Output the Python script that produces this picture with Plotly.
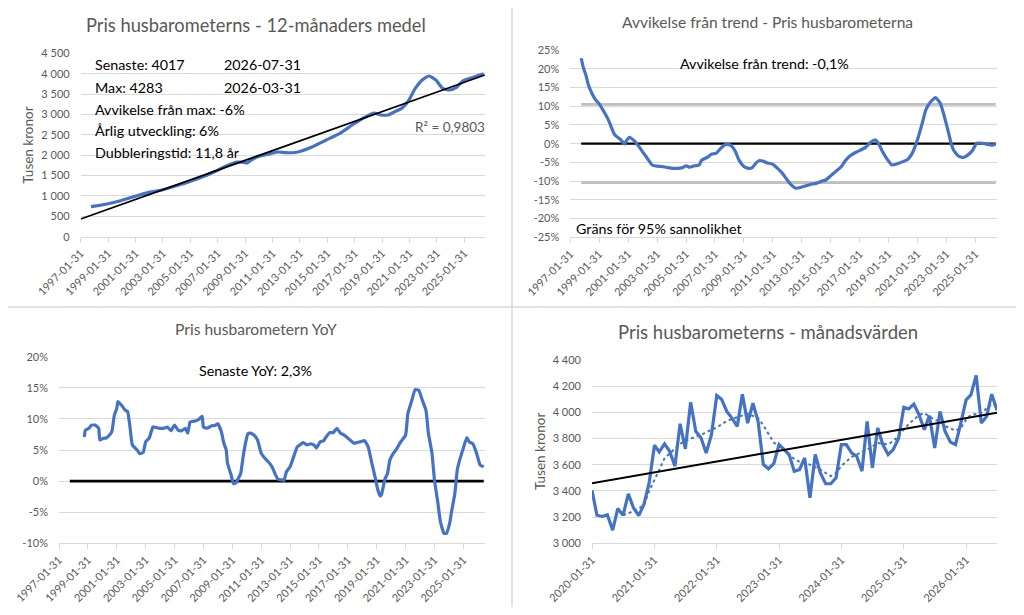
import pandas as pd
import plotly.graph_objects as go

BLA = "#4472C4"
GRID = "#D9D9D9"
GRA_TEXT = "#595959"
SVART = "#000000"
FONT = "Lato"

# sidan har 8 px marginal runt diagrammet -> figuren gors 16 px mindre och
# alla positioner nedan anges i skarmpixlar (0..1024 x 0..615)
SKARM_W, SKARM_H = 1024, 615
KANT = 8
W, H = SKARM_W - 2 * KANT, SKARM_H - 2 * KANT

# -- Pris husbarometerns, 12-manaders medel (tusen kronor) ---------------------
medel_datum = ["1997-11", "1998-01", "1999-01", "2000-01", "2001-01", "2002-01",
               "2003-01", "2004-01", "2005-01", "2006-01", "2007-01", "2008-01",
               "2008-07", "2009-01", "2009-04", "2009-07", "2010-01", "2011-01",
               "2011-07", "2012-01", "2012-07", "2013-01", "2014-01", "2015-01",
               "2016-01", "2017-01", "2018-01", "2018-07", "2019-01", "2019-07",
               "2020-01", "2020-07", "2021-01", "2021-07", "2022-01", "2022-07",
               "2023-01", "2023-07", "2024-01", "2024-07", "2025-01", "2025-07",
               "2026-01", "2026-07"]
medel_varde = [736, 745, 802, 883, 985, 1080,
               1145, 1243, 1350, 1472, 1620, 1775,
               1830, 1824, 1810, 1870, 1963, 2045,
               2078, 2065, 2060, 2086, 2209, 2372,
               2536, 2765, 2961, 3030, 2986, 2986,
               3067, 3149, 3329, 3640, 3845, 3943,
               3845, 3640, 3600, 3665, 3828, 3885,
               3943, 3995]
trend_medel_datum = ["1997-01-31", "2026-07-31"]
trend_medel_varde = [434, 3969]

# -- Avvikelse fran trend (%) --------------------------------------------------
avv_datum = ["1997-11", "1998-01", "1998-03", "1998-05", "1998-08", "1998-11",
             "1999-02", "1999-06", "1999-10", "2000-01", "2000-03", "2000-08",
             "2000-11", "2000-12", "2001-03", "2001-07", "2001-11", "2002-03",
             "2002-07", "2002-10", "2003-02", "2003-06", "2003-11", "2004-03",
             "2004-07", "2004-11", "2005-02", "2005-05", "2005-09", "2006-01",
             "2006-03", "2006-08", "2006-11", "2007-03", "2007-07", "2007-11",
             "2008-03", "2008-07", "2008-10", "2009-02", "2009-06", "2009-09",
             "2009-12", "2010-03", "2010-07", "2010-09", "2011-02", "2011-06",
             "2011-10", "2012-02", "2012-06", "2012-09", "2013-01", "2013-05",
             "2013-09", "2014-02", "2014-06", "2014-10", "2015-02", "2015-06",
             "2015-11", "2016-02", "2016-06", "2016-11", "2017-03", "2017-07",
             "2017-11", "2018-03", "2018-06", "2018-09", "2019-01", "2019-05",
             "2019-09", "2020-02", "2020-06", "2020-10", "2020-12", "2021-03",
             "2021-06", "2021-09", "2022-01", "2022-05", "2022-09", "2022-12",
             "2023-03", "2023-06", "2023-08", "2023-12", "2024-04", "2024-08",
             "2024-12", "2025-03", "2025-08", "2025-12", "2026-04", "2026-07"]
avv_varde = [22.8, 20.1, 18.3, 15.7, 13.4, 11.7,
             10.6, 8.5, 6.1, 3.6, 2.3, 1.0,
             -0.1, 0.5, 1.7, 0.8, -0.8, -2.6,
             -4.4, -5.7, -6.0, -6.1, -6.4, -6.6,
             -6.6, -6.4, -5.9, -6.3, -5.9, -5.7,
             -4.4, -3.6, -2.8, -2.6, -1.2, -0.2,
             -0.4, -2.1, -4.4, -6.1, -6.6, -6.4,
             -5.2, -4.5, -4.8, -5.1, -5.5, -6.6,
             -7.9, -9.7, -11.2, -11.9, -11.7, -11.3,
             -10.9, -10.6, -10.1, -9.7, -8.6, -7.5,
             -6.1, -4.6, -3.3, -2.3, -1.7, -1.0,
             0.3, 1.0, -0.1, -2.1, -4.2, -5.7,
             -5.4, -4.8, -4.2, -2.4, -0.8, 2.0,
             5.4, 9.0, 11.2, 12.3, 10.8, 7.7,
             4.1, 0.1, -1.7, -3.3, -3.7, -3.0,
             -1.7, 0.1, 0.1, -0.2, -0.4, -0.1]
grans_ovre = 10.5
grans_nedre = -10.4

# -- Pris husbarometern YoY (%) ------------------------------------------------
yoy_datum = ["1998-11", "1998-12", "1999-03", "1999-05", "1999-08", "1999-11",
             "1999-12", "2000-03", "2000-05", "2000-08", "2000-10", "2000-12",
             "2001-02", "2001-03", "2001-06", "2001-09", "2001-11", "2002-01",
             "2002-03", "2002-07", "2002-09", "2002-12", "2003-02", "2003-05",
             "2003-08", "2003-09", "2004-01", "2004-05", "2004-08", "2004-11",
             "2005-02", "2005-05", "2005-08", "2005-11", "2006-01", "2006-03",
             "2006-08", "2006-10", "2007-01", "2007-02", "2007-05", "2007-09",
             "2007-11", "2008-02", "2008-05", "2008-07", "2008-09", "2008-10",
             "2009-01", "2009-03", "2009-05", "2009-07", "2009-09", "2009-11",
             "2010-01", "2010-03", "2010-05", "2010-08", "2010-11", "2011-02",
             "2011-05", "2011-08", "2011-11", "2012-02", "2012-04", "2012-07",
             "2012-09", "2012-11", "2013-02", "2013-05", "2013-08", "2013-10",
             "2014-01", "2014-04", "2014-07", "2014-10", "2014-12", "2015-03",
             "2015-06", "2015-08", "2015-11", "2016-02", "2016-05", "2016-08",
             "2016-10", "2017-01", "2017-04", "2017-07", "2017-10", "2017-12",
             "2018-04", "2018-07", "2018-10", "2019-01", "2019-03", "2019-05",
             "2019-06", "2019-09", "2019-11", "2020-01", "2020-04", "2020-06",
             "2020-10", "2021-02", "2021-04", "2021-07", "2021-10", "2022-01",
             "2022-04", "2022-07", "2022-09", "2022-12", "2023-02", "2023-05",
             "2023-07", "2023-10", "2023-12", "2024-03", "2024-04", "2024-07",
             "2024-09", "2024-11", "2025-02", "2025-05", "2025-07", "2025-10",
             "2026-01", "2026-04", "2026-07"]
yoy_varde = [7.1, 8.2, 8.5, 9.0, 9.0, 8.5,
             6.6, 6.9, 6.9, 7.4, 8.0, 10.6,
             11.7, 12.8, 12.2, 11.4, 11.2, 8.7,
             5.8, 5.0, 4.4, 4.6, 6.3, 6.9,
             8.7, 8.7, 8.5, 8.5, 8.7, 8.1,
             9.0, 8.2, 8.1, 8.5, 7.7, 9.5,
             9.7, 9.9, 10.4, 8.7, 8.5, 8.9,
             8.9, 9.2, 7.9, 6.1, 5.0, 2.9,
             1.0, -0.4, -0.3, 0.4, 1.2, 3.9,
             6.1, 7.6, 7.7, 7.4, 6.6, 4.5,
             3.7, 3.1, 2.3, 1.0, 0.3, 0.2,
             0.1, 1.5, 2.3, 3.9, 5.5, 5.8,
             6.2, 5.8, 6.0, 5.8, 5.3, 6.3,
             6.5, 7.1, 7.8, 7.8, 8.5, 7.7,
             7.5, 7.1, 6.6, 6.1, 6.2, 6.3,
             6.5, 5.5, 2.9, 0.4, -1.4, -2.4,
             -2.2, 0.4, 1.2, 3.4, 4.5, 5.0,
             6.3, 7.4, 10.9, 12.8, 14.7, 14.6,
             13.0, 11.4, 7.7, 4.5, 0.2, -3.6,
             -6.5, -8.4, -8.4, -6.5, -5.2, -2.0,
             1.8, 3.4, 5.3, 7.0, 6.3, 6.0,
             4.5, 2.6, 2.3]

# -- Pris husbarometerns, manadsvarden fran 2020-01 (tusen kronor) -------------
manad_varde = [3405, 3214, 3205, 3218, 3100, 3265, 3214, 3378, 3272, 3211, 3297, 3462,
               3749, 3698, 3759, 3703, 3589, 3913, 3721, 4078, 3855, 3804, 3690, 3830,
               4129, 4101, 4007, 3956, 3893, 4139, 3918, 4070, 3931, 3601, 3569, 3609,
               3754, 3721, 3678, 3551, 3563, 3652, 3348, 3678, 3538, 3455, 3455, 3500,
               3754, 3754, 3690, 3665, 3551, 3931, 3576, 3880, 3754, 3678, 3716, 3800,
               4038, 4027, 4063, 3982, 3868, 3975, 3728, 4007, 3855, 3773, 3754, 3918,
               4096, 4134, 4283, 3918, 3969, 4139, 4017]
manad_datum = pd.date_range("2020-01-31", periods=len(manad_varde),
                            freq=pd.offsets.MonthEnd())
# glidande medel (prickad linje), avlast i bilden vid dessa manadsindex
glid_index = [6, 8, 10, 11, 13, 14, 15, 17, 19, 21, 23, 24, 26, 28, 30, 32, 33, 35,
              37, 38, 40, 42, 44, 46, 47, 48, 50, 51, 53, 55, 57, 58, 59, 61, 62, 63,
              64, 66, 67, 68, 70, 71, 72, 73, 75, 76, 77, 78]
glid_varde = [3214, 3245, 3290, 3400, 3560, 3650, 3685, 3760, 3800, 3828, 3868, 3885,
              3935, 3965, 3990, 3956, 3900, 3770, 3716, 3670, 3622, 3601, 3563, 3513,
              3535, 3590, 3660, 3678, 3716, 3766, 3756, 3779, 3820, 3910, 3944, 3980,
              3994, 3944, 3931, 3895, 3860, 3880, 3944, 3980, 3994, 4030, 4065, 4050]
trend_manad_varde = [3458, 3998]

# -- Axlar ---------------------------------------------------------------------
ticks_lang = ["1997-01-31", "1999-01-31", "2001-01-31", "2003-01-31", "2005-01-31",
              "2007-01-31", "2009-01-31", "2011-01-31", "2013-01-31", "2015-01-31",
              "2017-01-31", "2019-01-31", "2021-01-31", "2023-01-31", "2025-01-31"]
ticks_manad = ["2020-01-31", "2021-01-31", "2022-01-31", "2023-01-31",
               "2024-01-31", "2025-01-31", "2026-01-31"]
y_medel = list(range(0, 4501, 500))
y_avv = list(range(-25, 26, 5))
y_yoy = list(range(-10, 21, 5))
y_manad = list(range(3000, 4401, 200))


def kr(v):
    return f"{v:,}".replace(",", " ")


def px_x(x):
    return (x - KANT) / W


def px_y(y):
    return 1 - (y - KANT) / H


def xdom(a, b):
    return [px_x(a), px_x(b)]


def ydom(topp, botten):
    return [px_y(botten), px_y(topp)]


def text(x, y, s, size, color=SVART, xanchor="left", vinkel=0):
    return dict(x=px_x(x), y=px_y(y), xref="paper", yref="paper", text=s,
                showarrow=False, xanchor=xanchor, yanchor="middle",
                textangle=vinkel, font=dict(family=FONT, size=size, color=color))


fig = go.Figure()

# panel 1
fig.add_trace(go.Scatter(x=medel_datum, y=medel_varde, mode="lines",
                         line=dict(color=BLA, width=3.2, shape="spline", smoothing=0.5),
                         xaxis="x", yaxis="y"))
fig.add_trace(go.Scatter(x=trend_medel_datum, y=trend_medel_varde, mode="lines",
                         line=dict(color=SVART, width=1.7), xaxis="x", yaxis="y"))

# panel 2
for niva in (grans_ovre, grans_nedre):
    fig.add_trace(go.Scatter(x=[avv_datum[0], avv_datum[-1]], y=[niva, niva],
                             mode="lines", line=dict(color="#BFBFBF", width=2.7),
                             xaxis="x2", yaxis="y2"))
fig.add_trace(go.Scatter(x=[avv_datum[0], avv_datum[-1]], y=[0, 0], mode="lines",
                         line=dict(color=SVART, width=2.3), xaxis="x2", yaxis="y2"))
fig.add_trace(go.Scatter(x=avv_datum, y=avv_varde, mode="lines",
                         line=dict(color=BLA, width=3.2, shape="spline", smoothing=0.4),
                         xaxis="x2", yaxis="y2"))

# panel 3
fig.add_trace(go.Scatter(x=["1997-11", yoy_datum[-1]], y=[0, 0], mode="lines",
                         line=dict(color=SVART, width=2.7), xaxis="x3", yaxis="y3"))
fig.add_trace(go.Scatter(x=yoy_datum, y=yoy_varde, mode="lines",
                         line=dict(color=BLA, width=3.2, shape="spline", smoothing=0.4),
                         xaxis="x3", yaxis="y3"))

# panel 4
fig.add_trace(go.Scatter(x=manad_datum, y=manad_varde, mode="lines",
                         line=dict(color=BLA, width=3.2), xaxis="x4", yaxis="y4"))
fig.add_trace(go.Scatter(x=[manad_datum[i] for i in glid_index], y=glid_varde,
                         mode="lines", line=dict(color=BLA, width=2, dash="dot"),
                         xaxis="x4", yaxis="y4"))
fig.add_trace(go.Scatter(x=[manad_datum[0], manad_datum[-1]], y=trend_manad_varde,
                         mode="lines", line=dict(color=SVART, width=2),
                         xaxis="x4", yaxis="y4"))

tickfont = dict(family=FONT, size=11, color=GRA_TEXT)
xbas = dict(type="date", tickangle=-45, tickfont=tickfont, showgrid=False,
            showline=True, linecolor=GRID, ticks="outside", ticklen=5,
            tickcolor=GRID, zeroline=False, automargin=False)
ybas = dict(tickfont=tickfont, showgrid=True, gridcolor=GRID, gridwidth=1,
            zeroline=False, showline=False, ticks="", ticklabelstandoff=10,
            automargin=False)

fig.update_layout(
    template="none",
    width=W, height=H, margin=dict(l=0, r=0, t=0, b=0, autoexpand=False),
    paper_bgcolor="white", plot_bgcolor="white", showlegend=False,
    font=dict(family=FONT, color=GRA_TEXT),
    xaxis=dict(xbas, domain=xdom(80.7, 485), anchor="y",
               range=["1997-01-31", "2026-08-03"],
               tickvals=ticks_lang, ticktext=ticks_lang),
    yaxis=dict(ybas, domain=ydom(53.3, 236.7), anchor="x", range=[0, 4500],
               tickvals=y_medel, ticktext=[kr(v) for v in y_medel]),
    xaxis2=dict(xbas, domain=xdom(570.3, 997), anchor="y2",
                range=["1997-01-31", "2026-08-03"],
                tickvals=ticks_lang, ticktext=ticks_lang),
    yaxis2=dict(ybas, domain=ydom(50, 237.3), anchor="x2", range=[-25, 25],
                tickvals=y_avv, ticktext=[f"{v}%" for v in y_avv]),
    xaxis3=dict(xbas, domain=xdom(59, 485), anchor="y3",
                range=["1997-01-31", "2026-08-03"],
                tickvals=ticks_lang, ticktext=ticks_lang),
    yaxis3=dict(ybas, domain=ydom(356.7, 543.3), anchor="x3", range=[-10, 20],
                tickvals=y_yoy, ticktext=[f"{v}%" for v in y_yoy]),
    xaxis4=dict(xbas, domain=xdom(592, 997), anchor="y4",
                range=["2020-01-31", "2026-07-31"],
                tickvals=ticks_manad, ticktext=ticks_manad),
    yaxis4=dict(ybas, domain=ydom(360, 543.3), anchor="x4", range=[3000, 4400],
                tickvals=y_manad, ticktext=[kr(v) for v in y_manad]),
)

# skiljelinjer mellan de fyra diagrammen
fig.add_shape(type="line", xref="paper", yref="paper",
              x0=px_x(512), x1=px_x(512), y0=0, y1=1,
              line=dict(color=GRID, width=1.5))
fig.add_shape(type="line", xref="paper", yref="paper",
              x0=0, x1=1, y0=px_y(307), y1=px_y(307),
              line=dict(color=GRID, width=1.5))

anteckningar = [
    text(256, 24.5, "Pris husbarometerns - 12-månaders medel", 18.3, GRA_TEXT, "center"),
    text(93, 65, "Senaste: 4017", 14.3),
    text(222, 65, "2026-07-31", 14.3),
    text(93, 87.3, "Max: 4283", 14.3),
    text(222, 87.3, "2026-03-31", 14.3),
    text(93, 109, "Avvikelse från max: -6%", 14.3),
    text(93, 130.7, "Årlig utveckling: 6%", 14.3),
    text(93, 152.7, "Dubbleringstid: 11,8 år", 14.3),
    text(487, 126.7, "R² = 0,9803", 13.5, GRA_TEXT, "right"),
    text(27.7, 145, "Tusen kronor", 13.5, GRA_TEXT, "center", -90),

    text(767.7, 22.3, "Avvikelse från trend - Pris husbarometerna", 15.6, GRA_TEXT, "center"),
    text(677.7, 63.3, "Avvikelse från trend: -0,1%", 14.3),
    text(573.7, 228.3, "Gräns för 95% sannolikhet", 14.3),

    text(256, 329.3, "Pris husbarometern YoY", 15.6, GRA_TEXT, "center"),
    text(196.7, 370.7, "Senaste YoY: 2,3%", 14.3),

    text(767.5, 331.7, "Pris husbarometerns - månadsvärden", 18.5, GRA_TEXT, "center"),
    text(539.3, 451.7, "Tusen kronor", 13.5, GRA_TEXT, "center", -90),
]
fig.update_layout(annotations=anteckningar)

fig.write_html("out.html")
